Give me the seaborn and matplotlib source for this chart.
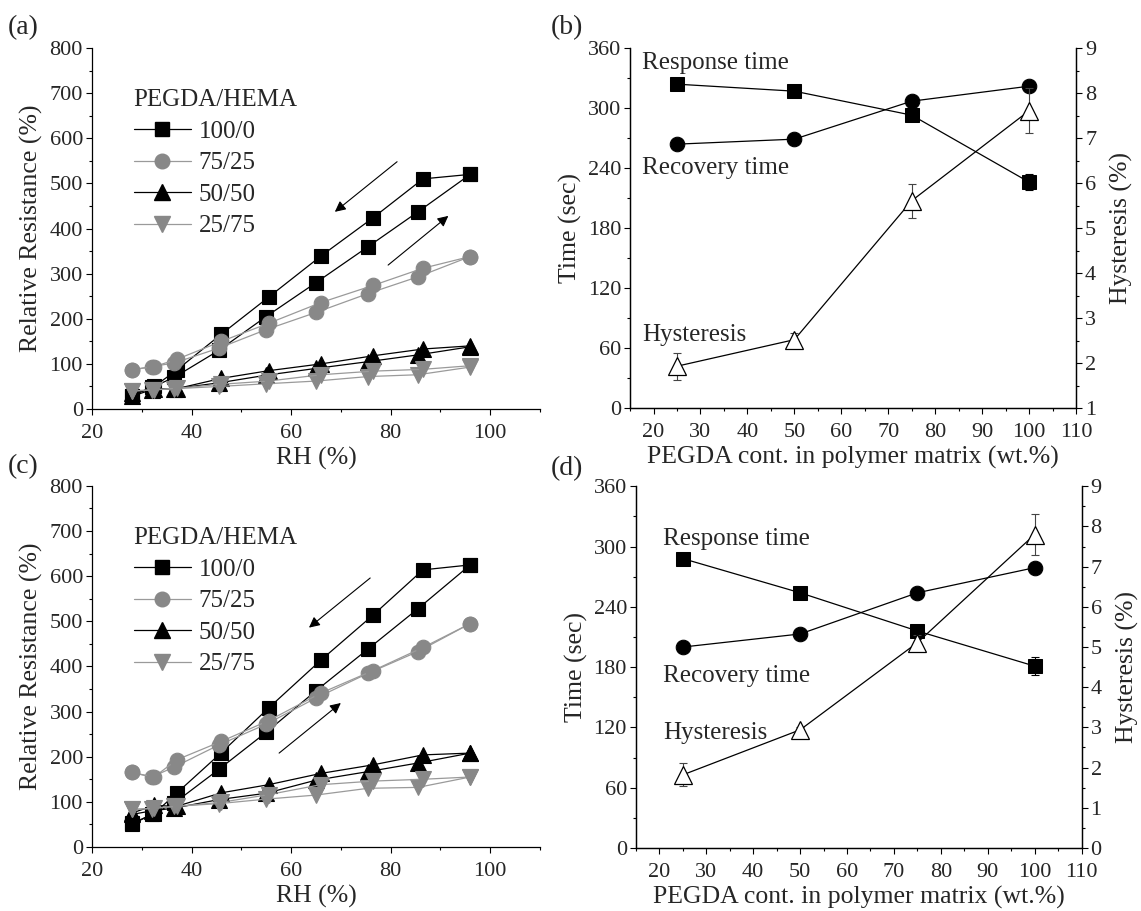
import matplotlib
matplotlib.use("Agg")
import matplotlib.pyplot as plt
from matplotlib.lines import Line2D
from matplotlib.ticker import MultipleLocator
import seaborn as sns
import pandas as pd
import numpy as np

# ---------------- data ----------------
rh_up = [28, 32, 36.5, 45.5, 55, 65, 75.5, 85.5, 96]      # adsorption
rh_down = [28, 32.5, 37, 46, 55.5, 66, 76.5, 86.5, 96]    # desorption
series_labels = ["100/0", "75/25", "50/50", "25/75"]

a_100_up = [30, 48, 70, 130, 205, 280, 360, 437, 520]
a_100_down = [30, 50, 86, 166, 248, 339, 424, 510, 520]
a_75_up = [87, 94, 102, 135, 176, 214, 256, 293, 338]
a_75_down = [87, 94, 110, 150, 190, 236, 274, 312, 338]
a_50_up = [28, 43, 45, 58, 75, 90, 105, 120, 138]
a_50_down = [35, 45, 45, 68, 85, 100, 118, 133, 140]
a_25_up = [40, 42, 45, 50, 56, 62, 72, 76, 93]
a_25_down = [40, 43, 46, 55, 62, 76, 84, 88, 96]

c_100_up = [50, 72, 97, 172, 254, 346, 439, 528, 625]
c_100_down = [52, 74, 119, 209, 308, 414, 514, 614, 625]
c_75_up = [165, 155, 177, 226, 272, 330, 385, 433, 495]
c_75_down = [165, 155, 193, 234, 280, 341, 391, 442, 495]
c_50_up = [72, 80, 86, 105, 119, 148, 167, 186, 208]
c_50_down = [75, 92, 90, 120, 138, 163, 182, 204, 208]
c_25_up = [83, 85, 90, 96, 106, 115, 130, 132, 155]
c_25_down = [83, 86, 90, 99, 116, 138, 146, 150, 155]

pegda = [25, 50, 75, 100]
b_resp = [324, 317, 293, 226]
b_resp_err = [0, 0, 0, 8]
b_rec = [264, 269, 307, 322]
b_hys = [1.93, 2.52, 5.61, 7.61]
b_hys_err = [0.3, 0.15, 0.38, 0.5]

d_resp = [288, 254, 216, 181]
d_resp_err = [0, 0, 0, 9]
d_rec = [200, 213, 254, 279]
d_hys = [1.82, 2.94, 5.11, 7.80]
d_hys_err = [0.29, 0.08, 0.2, 0.5]

# ---------------- style ----------------
sns.set_style("ticks")
plt.rcParams['font.family'] = ['Liberation Serif', 'DejaVu Serif']
plt.rcParams['mathtext.fontset'] = 'stix'
TICK_FS = 16
LAB_FS = 18.5
ANN_FS = 18

GRAY = '#888888'
styles = [
    dict(marker='s', color='black', mfc='black', mec='black', ms=10),
    dict(marker='o', color='#9a9a9a', mfc=GRAY, mec=GRAY, ms=10.5),
    dict(marker='^', color='black', mfc='black', mec='black', ms=11),
    dict(marker='v', color='#9a9a9a', mfc=GRAY, mec=GRAY, ms=11),
]

fig = plt.figure(figsize=(11.41, 9.11), dpi=100)


def style_axis(ax):
    ax.tick_params(axis='both', which='major', direction='out', length=4, width=0.8,
                   labelsize=TICK_FS, color='black')
    ax.tick_params(axis='both', which='minor', direction='out', length=2.3, width=0.8,
                   color='black')
    ax.tick_params(axis='x', which='major', pad=6.5)
    ax.tick_params(axis='y', which='major', pad=2.5)
    for s in ax.spines.values():
        s.set_linewidth(0.9)
        s.set_color('black')


def hysteresis_panel(rect, up_list, down_list, arrows):
    ax = fig.add_axes(rect)
    for st, up, dn in zip(styles, up_list, down_list):
        for xs, ys in ((rh_up, up), (rh_down, dn)):
            df = pd.DataFrame({'RH': xs, 'R': ys})
            sns.lineplot(data=df, x='RH', y='R', ax=ax, sort=False, estimator=None,
                         color=st['color'], linewidth=0.9, marker=st['marker'],
                         markersize=st['ms'], markerfacecolor=st['mfc'],
                         markeredgecolor=st['mec'], markeredgewidth=0.8)
    ax.set_xlim(20, 110)
    ax.set_ylim(0, 800)
    ax.xaxis.set_minor_locator(MultipleLocator(10))
    ax.yaxis.set_major_locator(MultipleLocator(100))
    ax.yaxis.set_minor_locator(MultipleLocator(50))
    ax.set_xticks([20, 40, 60, 80, 100])
    ax.spines['top'].set_visible(False)
    ax.spines['right'].set_visible(False)
    style_axis(ax)
    ax.set_xlabel('RH (%)', fontsize=LAB_FS, labelpad=3)
    ax.set_ylabel('Relative Resistance (%)', fontsize=LAB_FS, labelpad=5)
    handles = [Line2D([], [], color=st['color'], lw=0.9, marker=st['marker'],
                      ms=st['ms'], mfc=st['mfc'], mec=st['mec'])
               for st in styles]
    ax.legend(handles, series_labels, title='PEGDA/HEMA', loc='upper left',
              bbox_to_anchor=(0.065, 0.92), frameon=False, fontsize=18,
              title_fontsize=18, handlelength=2.3, handletextpad=0.3,
              labelspacing=0.36, borderpad=0, alignment='left')
    for (x0, y0), (x1, y1) in arrows:
        ax.annotate('', xy=(x1, y1), xytext=(x0, y0),
                    arrowprops=dict(arrowstyle='-|>', lw=0.8, color='black',
                                    mutation_scale=16, shrinkA=0, shrinkB=0))
    return ax


def time_panel(rect, resp, resp_err, rec, hys, hys_err, hys_lim, hys_ticks, labels_pos):
    ax = fig.add_axes(rect)
    df_resp = pd.DataFrame({'x': pegda, 'y': resp})
    df_rec = pd.DataFrame({'x': pegda, 'y': rec})
    ax.errorbar(pegda, resp, yerr=resp_err, fmt='none', ecolor='black', elinewidth=0.8,
                capsize=3, capthick=0.8)
    sns.lineplot(data=df_resp, x='x', y='y', ax=ax, sort=False, estimator=None,
                 color='black', linewidth=0.9, marker='s', markersize=9.5,
                 markerfacecolor='black', markeredgecolor='black')
    sns.lineplot(data=df_rec, x='x', y='y', ax=ax, sort=False, estimator=None,
                 color='black', linewidth=0.9, marker='o', markersize=10.5,
                 markerfacecolor='black', markeredgecolor='black')
    ax.set_xlim(15, 110)
    ax.set_ylim(0, 360)
    ax.xaxis.set_minor_locator(MultipleLocator(5))
    ax.set_xticks(list(range(20, 111, 10)))
    ax.yaxis.set_major_locator(MultipleLocator(60))
    ax.yaxis.set_minor_locator(MultipleLocator(30))
    ax.spines['top'].set_visible(False)
    style_axis(ax)
    ax.set_xlabel('PEGDA cont. in polymer matrix (wt.%)', fontsize=LAB_FS, labelpad=3)
    ax.set_ylabel('Time (sec)', fontsize=LAB_FS, labelpad=4)

    ax2 = ax.twinx()
    ax2.errorbar(pegda, hys, yerr=hys_err, fmt='none', ecolor='#444444', elinewidth=0.8,
                 capsize=3, capthick=0.8)
    df_h = pd.DataFrame({'x': pegda, 'y': hys})
    sns.lineplot(data=df_h, x='x', y='y', ax=ax2, sort=False, estimator=None,
                 color='black', linewidth=0.9, marker='^', markersize=13,
                 markerfacecolor='white', markeredgecolor='black', markeredgewidth=0.9)
    ax2.set_ylim(*hys_lim)
    ax2.set_yticks(hys_ticks)
    ax2.yaxis.set_minor_locator(MultipleLocator(0.5))
    ax2.spines['top'].set_visible(False)
    style_axis(ax2)
    ax2.set_ylabel('Hysteresis (%)', fontsize=LAB_FS, labelpad=10)
    for txt, (x, y) in zip(['Response time', 'Recovery time', 'Hysteresis'], labels_pos):
        ax.text(x, y, txt, fontsize=ANN_FS, ha='left', va='center')
    return ax, ax2


hysteresis_panel([0.0806, 0.551, 0.3926, 0.3963],
                 [a_100_up, a_75_up, a_50_up, a_25_up],
                 [a_100_down, a_75_down, a_50_down, a_25_down],
                 [((81.3, 548), (68.8, 437)), ((79.5, 319), (91.6, 428))])
hysteresis_panel([0.0806, 0.0703, 0.3926, 0.3963],
                 [c_100_up, c_75_up, c_50_up, c_25_up],
                 [c_100_down, c_75_down, c_50_down, c_25_down],
                 [((75.9, 596), (63.6, 486)), ((57.6, 208), (70.0, 319))])
time_panel([0.5522, 0.5521, 0.3909, 0.395], b_resp, b_resp_err, b_rec, b_hys, b_hys_err,
           (1, 9), list(range(1, 10)), [(17.5, 345), (17.5, 240), (17.5, 73)])
time_panel([0.5574, 0.0692, 0.3905, 0.397], d_resp, d_resp_err, d_rec, d_hys, d_hys_err,
           (0, 9), list(range(0, 10)), [(20.7, 308), (20.7, 171), (20.7, 114)])

for lab, x, y in [('(a)', 0.007, 0.970), ('(b)', 0.483, 0.970),
                  ('(c)', 0.007, 0.488), ('(d)', 0.483, 0.486)]:
    fig.text(x, y, lab, fontsize=20, ha='left', va='center')

fig.savefig('out.png', dpi=100)
